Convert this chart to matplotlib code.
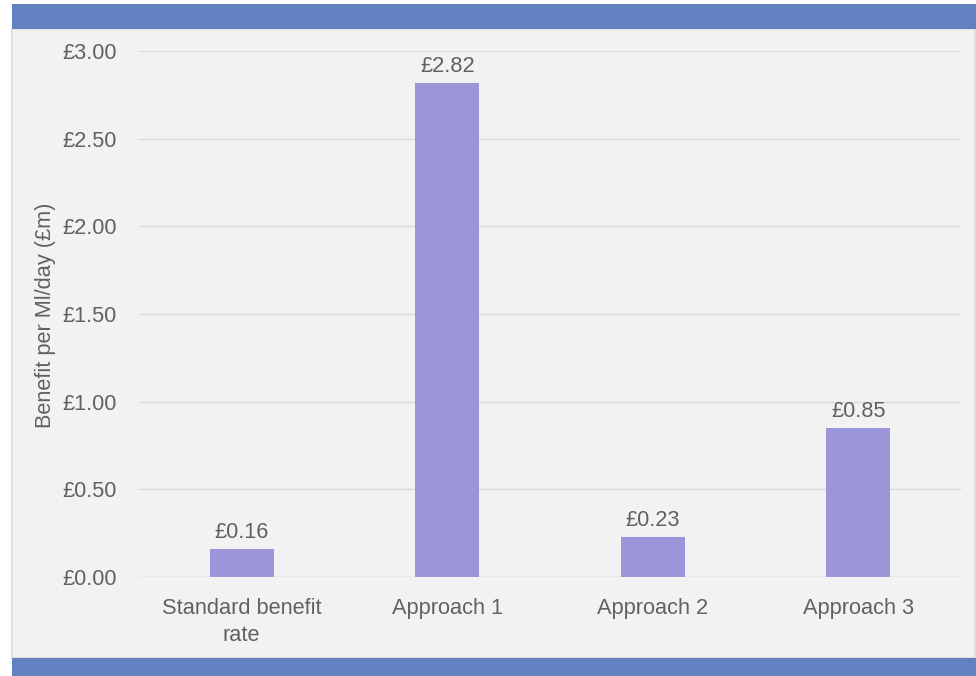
import matplotlib
matplotlib.use("Agg")
import matplotlib.pyplot as plt
from matplotlib.patches import Rectangle

categories = ["Standard benefit\nrate", "Approach 1", "Approach 2", "Approach 3"]
values = [0.16, 2.82, 0.23, 0.85]
value_labels = ["£0.16", "£2.82", "£0.23", "£0.85"]
yticks = [0.0, 0.5, 1.0, 1.5, 2.0, 2.5, 3.0]
ytick_labels = ["£0.00", "£0.50", "£1.00", "£1.50", "£2.00", "£2.50", "£3.00"]
ylabel = "Benefit per Ml/day (£m)"

W, H = 976, 676
plt.rcParams["font.family"] = ["Liberation Sans", "DejaVu Sans"]
text_color = "#616161"
bar_color = "#9b95da"
band_color = "#6181c1"
panel_color = "#f2f2f2"
grid_color = "#d9d9d9"
fs = 15.7

fig = plt.figure(figsize=(W / 100, H / 100), dpi=100)
fig.patch.set_facecolor("white")

def px_rect(x0, y0, x1, y1, **kw):
    # rectangle given in pixel coordinates measured from the top-left corner
    return Rectangle((x0 / W, 1 - y1 / H), (x1 - x0) / W, (y1 - y0) / H,
                     transform=fig.transFigure, **kw)

fig.patches.append(px_rect(12, 29, 975, 658, facecolor=panel_color,
                           edgecolor="#dcdcdc", linewidth=1.2, zorder=-2))
fig.patches.append(px_rect(12, 4, 976, 28.5, facecolor=band_color,
                           edgecolor="none", zorder=-1))
fig.patches.append(px_rect(12, 658, 976, 676, facecolor=band_color,
                           edgecolor="none", zorder=-1))

ax = fig.add_axes([139 / W, (H - 577) / H, (961 - 139) / W, (577 - 51) / H])
ax.set_facecolor("none")
ax.set_zorder(2)

x = range(len(categories))
bars = ax.bar(x, values, width=0.31, color=bar_color, zorder=3)
for b, lab in zip(bars, value_labels):
    ax.annotate(lab, (b.get_x() + b.get_width() / 2, b.get_height()),
                xytext=(0, 4), textcoords="offset points", ha="center",
                va="bottom", fontsize=fs, color=text_color)

ax.set_xlim(-0.5, 3.5)
ax.set_ylim(0, 3.0)
ax.set_yticks(yticks)
ax.set_yticklabels(ytick_labels)
ax.set_xticks(list(x))
ax.set_xticklabels(categories, linespacing=1.4)
ax.tick_params(axis="y", length=0, pad=16, labelsize=fs, labelcolor=text_color)
ax.tick_params(axis="x", length=0, pad=15, labelsize=fs, labelcolor=text_color)
ax.grid(axis="y", color=grid_color, linewidth=1.0, zorder=0)
ax.set_axisbelow(True)
for s in ax.spines.values():
    s.set_visible(False)
ax.axhline(0, color=grid_color, linewidth=1.0, zorder=2)

ax.set_ylabel(ylabel, fontsize=fs, color=text_color)
ax.yaxis.set_label_coords(-(139 - 56) / (961 - 139), (577 - 315) / (577 - 51))

fig.savefig("out.png", dpi=100, facecolor="white")
